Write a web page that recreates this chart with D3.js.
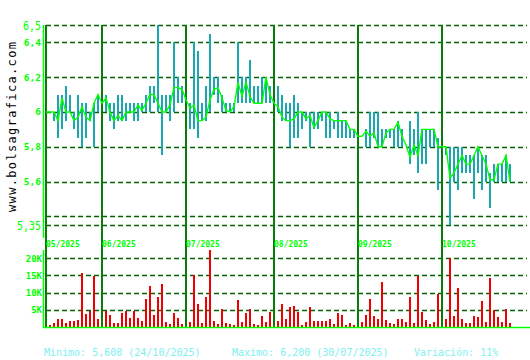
<!DOCTYPE html>
<html>
<head>
<meta charset="utf-8">
<script src="https://cdn.jsdelivr.net/npm/d3@7/dist/d3.min.js"></script>
<style>
  html, body { margin: 0; padding: 0; background: #ffffff; }
  svg { display: block; }
</style>
</head>
<body>
<svg id="chart" width="530" height="360"></svg>
<script>
// ---------------- DATA ----------------
const closes = [
  6.00,6.00,6.00,5.95,6.08,6.00,6.00,5.95,5.97,6.03,
  5.97,5.95,6.05,6.10,6.05,6.08,6.00,5.95,5.98,5.95,
  6.00,6.00,6.00,6.04,6.01,6.05,6.10,6.10,6.05,6.00,
  6.00,6.04,6.14,6.14,6.13,6.07,6.02,6.04,5.95,5.95,
  5.97,6.07,6.13,6.14,6.08,6.01,6.00,6.03,6.17,6.09,
  6.17,6.09,6.05,6.05,6.05,6.20,6.10,6.05,6.03,5.97,
  5.95,5.95,5.96,6.00,6.00,5.96,5.98,5.91,5.95,6.00,
  6.00,5.96,5.95,5.95,5.95,5.95,5.90,5.90,5.86,5.86,
  5.89,5.86,5.88,5.80,5.80,5.88,5.90,5.90,5.94,5.86,
  5.81,5.74,5.81,5.75,5.90,5.90,5.90,5.90,5.80,5.80,
  5.80,5.62,5.65,5.70,5.75,5.70,5.70,5.75,5.80,5.75,
  5.70,5.61,5.61,5.70,5.70,5.75,5.60
];
const highs = [
  6.15,6.00,6.00,6.10,6.10,6.15,6.10,6.00,6.10,6.05,
  6.05,6.00,6.05,6.10,6.10,6.10,6.05,6.05,6.10,6.10,
  6.05,6.05,6.05,6.05,6.05,6.10,6.15,6.15,6.50,6.10,
  6.10,6.10,6.40,6.20,6.15,6.07,6.05,6.40,6.35,6.05,
  6.15,6.45,6.20,6.20,6.10,6.05,6.05,6.05,6.40,6.20,
  6.20,6.30,6.15,6.15,6.20,6.20,6.15,6.10,6.15,6.10,
  6.05,6.05,6.10,6.05,6.00,6.00,6.00,6.00,6.00,6.00,
  6.00,6.00,5.95,6.00,5.95,5.95,5.90,5.90,5.87,5.86,
  5.90,6.00,6.00,6.00,5.90,5.90,5.90,5.90,5.95,5.90,
  5.81,5.95,5.90,6.00,5.90,5.90,5.90,5.90,5.85,5.80,
  5.80,5.80,5.80,5.80,5.80,5.75,5.75,5.75,5.80,5.75,
  5.75,5.65,5.70,5.70,5.70,5.75,5.70
];
const lows = [
  5.80,6.00,5.95,5.85,5.90,5.95,6.00,5.90,5.85,5.80,
  5.85,5.95,5.80,6.00,6.00,6.00,5.95,5.90,5.95,5.95,
  5.95,6.00,5.95,5.95,6.00,6.00,6.00,6.05,6.00,5.75,
  6.00,5.95,6.00,6.05,6.05,5.85,5.90,5.90,5.85,5.95,
  5.95,6.00,6.10,6.05,6.00,6.00,6.00,6.00,6.05,6.05,
  6.05,6.05,6.05,6.05,6.05,6.05,6.05,6.05,6.00,5.95,
  5.95,5.80,5.85,5.85,5.90,5.95,5.80,5.90,5.90,5.95,
  5.85,5.85,5.90,5.85,5.85,5.85,5.85,5.85,5.85,5.86,
  5.80,5.80,5.85,5.80,5.80,5.85,5.85,5.80,5.80,5.80,
  5.81,5.70,5.75,5.65,5.70,5.70,5.80,5.80,5.55,5.80,
  5.75,5.35,5.60,5.55,5.65,5.65,5.65,5.50,5.65,5.55,
  5.60,5.45,5.60,5.60,5.60,5.60,5.60
];
// volume in thousands
const volumes = [
  3.1,0.5,1.1,2.4,2.2,1.1,1.7,1.7,2.1,15.7,
  3.7,4.6,14.8,2.2,0.8,4.5,3.4,1.1,1.1,4.0,
  4.6,2.5,4.6,2.5,1.7,8.1,11.9,3.4,8.7,12.5,
  1.4,0.8,4.0,2.5,0.8,1.0,1.4,15.1,6.6,1.1,
  8.7,22.4,1.7,0.8,5.2,1.1,0.8,0.5,7.8,1.4,
  4.0,5.2,0.8,0.5,3.1,1.4,4.3,1.0,1.7,6.6,
  2.2,5.8,6.0,4.3,0.5,1.4,5.8,1.7,1.7,1.7,
  1.7,2.2,0.8,4.0,3.4,0.5,1.1,0.5,0.5,1.4,
  3.4,8.1,3.1,2.2,13.1,2.0,1.1,0.8,2.2,2.2,
  1.4,8.7,1.1,14.8,4.3,2.0,0.8,1.4,9.6,1.0,
  2.2,20.0,3.1,11.3,2.2,1.1,1.1,3.1,2.8,7.5,
  1.4,14.2,4.9,2.8,1.4,5.2,1.1
];
const monthLabels = ["05/2025","06/2025","07/2025","08/2025","09/2025","10/2025"];
const monthStartIdx = [0,14,35,57,78,99];
const priceTicks = [6.5,6.4,6.2,6.0,5.8,5.6,5.4,5.35];
const priceTickLabels = ["6,5","6,4","6,2","6","5,8","5,6","","5,35"];
const priceTickBig = [true,false,false,false,false,false,false,true];
const volTicks = [5,10,15,20];
const volTickLabels = ["5K","10K","15K","20K"];
const footerTexts = ["Minimo: 5,600 (24/10/2025)","Maximo: 6,200 (30/07/2025)","Variación: 11%"];
const siteLabel = "www.bolsagrafica.com";

// ---------------- DRAW ----------------
const svg = d3.select("#chart");
const N = closes.length;
const idx = d3.range(N);

const x = d3.scaleLinear().domain([0, N - 1]).range([45, 45 + 4 * (N - 1)]);
const y = d3.scaleLinear().domain([5.35, 6.5]).range([225, 25]);
const yv = d3.scaleLinear().domain([0, 20]).range([327, 258]);

const gridLeft = 46, gridRight = 527;
const gridColor = "#006400";
const monthColor = "#0a7a0a";
const bright = "#00ff00";
const mono = "'DejaVu Sans Mono', 'Liberation Mono', monospace";

// price gridlines
svg.append("g").selectAll("line").data(priceTicks).join("line")
  .attr("x1", gridLeft).attr("x2", gridRight)
  .attr("y1", d => Math.round(y(d)) + 0.5).attr("y2", d => Math.round(y(d)) + 0.5)
  .attr("stroke", gridColor).attr("stroke-width", 1.5)
  .attr("stroke-dasharray", "5,3");

// volume gridlines
svg.append("g").selectAll("line").data(volTicks).join("line")
  .attr("x1", gridLeft).attr("x2", gridRight)
  .attr("y1", d => Math.round(yv(d)) + 0.5).attr("y2", d => Math.round(yv(d)) + 0.5)
  .attr("stroke", gridColor).attr("stroke-width", 1.5)
  .attr("stroke-dasharray", "5,3");

// high-low bars
svg.append("g").selectAll("line").data(idx).join("line")
  .attr("x1", i => x(i) + 1).attr("x2", i => x(i) + 1)
  .attr("y1", i => y(highs[i])).attr("y2", i => y(lows[i]))
  .attr("stroke", "#1aa7b0").attr("stroke-width", 2)
  .attr("shape-rendering", "crispEdges");

// volume bars
svg.append("g").selectAll("line").data(idx).join("line")
  .attr("x1", i => x(i) + 1).attr("x2", i => x(i) + 1)
  .attr("y1", i => yv(volumes[i])).attr("y2", yv(0))
  .attr("stroke", "#ee0000").attr("stroke-width", 2)
  .attr("shape-rendering", "crispEdges");

// month lines
svg.append("g").selectAll("line").data(monthStartIdx).join("line")
  .attr("x1", d => x(d) + 1).attr("x2", d => x(d) + 1)
  .attr("y1", y(6.5)).attr("y2", yv(0))
  .attr("stroke", monthColor).attr("stroke-width", 2)
  .attr("shape-rendering", "crispEdges");

// close line
svg.append("path")
  .datum(idx)
  .attr("fill", "none")
  .attr("stroke", bright)
  .attr("stroke-width", 1.4)
  .attr("d", d3.line().x(i => x(i) + 1).y(i => y(closes[i])));

// axes lines
svg.append("line").attr("x1", 43.5).attr("x2", 43.5).attr("y1", y(6.5)).attr("y2", 238)
  .attr("stroke", bright).attr("stroke-width", 1.5);
svg.append("line").attr("x1", 43.5).attr("x2", 43.5).attr("y1", 250).attr("y2", yv(0))
  .attr("stroke", bright).attr("stroke-width", 1.5);
svg.append("line").attr("x1", 43).attr("x2", 530).attr("y1", yv(0) + 0.5).attr("y2", yv(0) + 0.5)
  .attr("stroke", bright).attr("stroke-width", 1.5);

// price tick labels
const pl = svg.append("g");
priceTicks.forEach((t, k) => {
  if (!priceTickLabels[k]) return;
  const big = priceTickBig[k];
  const txt = pl.append("text")
    .attr("x", 41).attr("y", y(t) + 1)
    .attr("text-anchor", "end")
    .attr("dominant-baseline", "middle")
    .attr("font-family", mono)
    .attr("font-size", big ? 13 : 9.5)
    .attr("font-weight", big ? "normal" : "bold")
    .attr("fill", bright)
    .text(priceTickLabels[k]);
  if (big) txt.attr("textLength", priceTickLabels[k].length * 6).attr("lengthAdjust", "spacingAndGlyphs");
});

// volume tick labels
svg.append("g").selectAll("text").data(volTicks).join("text")
  .attr("x", 42).attr("y", d => yv(d) + 1)
  .attr("text-anchor", "end")
  .attr("dominant-baseline", "middle")
  .attr("font-family", mono).attr("font-size", 9).attr("font-weight", "bold")
  .attr("fill", bright)
  .text((d, k) => volTickLabels[k]);

// month labels
svg.append("g").selectAll("text").data(monthStartIdx).join("text")
  .attr("x", d => x(d) + 1).attr("y", 247)
  .attr("font-family", mono).attr("font-size", 8).attr("font-weight", "bold")
  .attr("fill", bright)
  .text((d, k) => monthLabels[k]);

// site label (rotated)
svg.append("text")
  .attr("transform", "translate(16,127) rotate(-90)")
  .attr("text-anchor", "middle")
  .attr("font-family", mono).attr("font-size", 12)
  .attr("fill", "#000000")
  .attr("textLength", 170).attr("lengthAdjust", "spacing")
  .text(siteLabel);

// footer
const footerX = [44, 232, 414];
svg.append("g").selectAll("text").data(footerTexts).join("text")
  .attr("x", (d, k) => footerX[k]).attr("y", 356)
  .attr("font-family", mono).attr("font-size", 10)
  .attr("fill", "#80f0f0")
  .text(d => d);
</script>
</body>
</html>
